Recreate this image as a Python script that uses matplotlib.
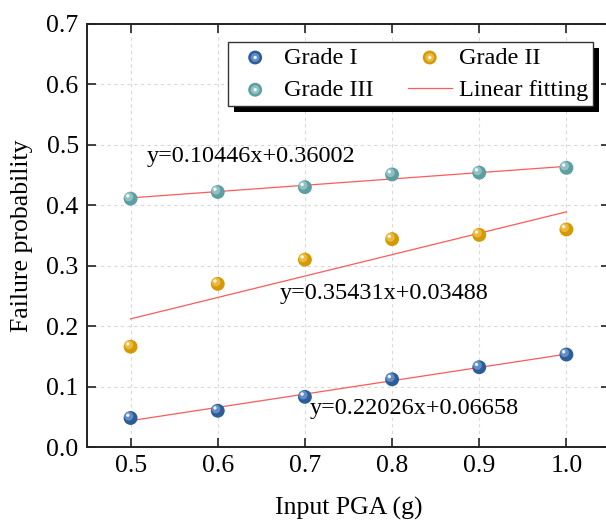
import matplotlib
matplotlib.use("Agg")
import matplotlib.pyplot as plt
from matplotlib.patches import Rectangle
from matplotlib.transforms import offset_copy
from matplotlib.legend_handler import HandlerTuple
import numpy as np

pga = [0.5, 0.6, 0.7, 0.8, 0.9, 1.0]
grade1 = [0.048, 0.060, 0.083, 0.112, 0.132, 0.153]
grade2 = [0.166, 0.270, 0.310, 0.344, 0.351, 0.360]
grade3 = [0.411, 0.422, 0.430, 0.451, 0.454, 0.462]

fit_slopes = [0.22026, 0.35431, 0.10446]
fit_intercepts = [-0.06658, 0.03488, 0.36002]
fit_labels = ["y=0.22026x+0.06658", "y=0.35431x+0.03488", "y=0.10446x+0.36002"]
label_pos = [(0.705, 0.064), (0.671, 0.254), (0.518, 0.480)]

colors = ["#2d5d99", "#d49a06", "#5d9ea0"]
light = ["#6f9bd0", "#f2c24a", "#9ccaca"]
names = ["Grade I", "Grade II", "Grade III"]

plt.rcParams['font.family'] = ['Liberation Serif', 'DejaVu Serif']

fig = plt.figure(figsize=(6.06, 5.21), dpi=100)
ax = fig.add_axes([87/606, 74/521, 523/606, 423/521])

ax.set_xlim(0.45, 1.05)
ax.set_ylim(0.0, 0.7)
ax.set_xticks(pga)
ax.set_xticklabels([f"{v:.1f}" for v in pga])
yt = np.round(np.arange(0, 0.71, 0.1), 1)
ax.set_yticks(yt)
ax.set_yticklabels([f"{v:.1f}" for v in yt])
ax.grid(True, linestyle=(0, (3, 3)), color='#d8d8d8', linewidth=0.8)
ax.set_axisbelow(True)
ax.tick_params(direction='in', length=6.5, width=1.2, labelsize=18.5, pad=6,
               top=True, right=True, colors='#222222', labelcolor='black')
for s in ax.spines.values():
    s.set_linewidth(1.4)
    s.set_color('#222222')

hl_tr = offset_copy(ax.transData, fig=fig, x=-1.3, y=1.3, units='points')
hl_tr2 = offset_copy(ax.transData, fig=fig, x=-2.0, y=2.0, units='points')

xs = np.array([pga[0], pga[-1]])
handles = []
data = [grade1, grade2, grade3]
for ys, c, lc, n in zip(data, colors, light, names):
    h = ax.scatter(pga, ys, s=100, color=c, zorder=4, edgecolors='none')
    h2 = ax.scatter(pga, ys, s=40, color=lc, alpha=0.8, zorder=5,
                    edgecolors='none', transform=hl_tr)
    h3 = ax.scatter(pga, ys, s=6, color='white', alpha=0.9, zorder=6,
                    edgecolors='none', transform=hl_tr2)
    handles.append((h, h2, h3))

line = None
for m, b in zip(fit_slopes, fit_intercepts):
    line, = ax.plot(xs, m * xs + b, color='#ff5a5a', linewidth=0.9, zorder=3)

for t, (px, py) in zip(fit_labels, label_pos):
    ax.text(px, py, t, fontsize=17.5, ha='left', va='center', zorder=7)

ax.set_xlabel("Input PGA (g)", fontsize=18.5, labelpad=14)
ax.set_ylabel("Failure probability", fontsize=18.5, labelpad=10)

leg = ax.legend([handles[0], handles[2], handles[1], line],
                ["Grade I", "Grade III", "Grade II", "Linear fitting"],
                handler_map={tuple: HandlerTuple(ndivide=1, pad=0)},
                ncol=2, loc='upper right', bbox_to_anchor=(593/606, 1 - 42/521),
                bbox_transform=fig.transFigure, borderaxespad=0,
                fontsize=17.5, frameon=True,
                fancybox=False, edgecolor='#333333', framealpha=1,
                borderpad=0.2, handletextpad=0.3, columnspacing=1.4,
                labelspacing=0.42, handlelength=1.8, scatterpoints=1)
leg.get_frame().set_linewidth(1.0)
leg.set_zorder(10)

fig.canvas.draw()
bb = leg.get_window_extent()
sh = Rectangle((bb.x0 + 6, bb.y0 - 6), bb.width, bb.height, transform=None,
               facecolor='black', edgecolor='none', zorder=9)
fig.patches.append(sh)
sh.set_figure(fig)
leg.remove()
fig.add_artist(leg)

fig.savefig("out.png", dpi=100)
